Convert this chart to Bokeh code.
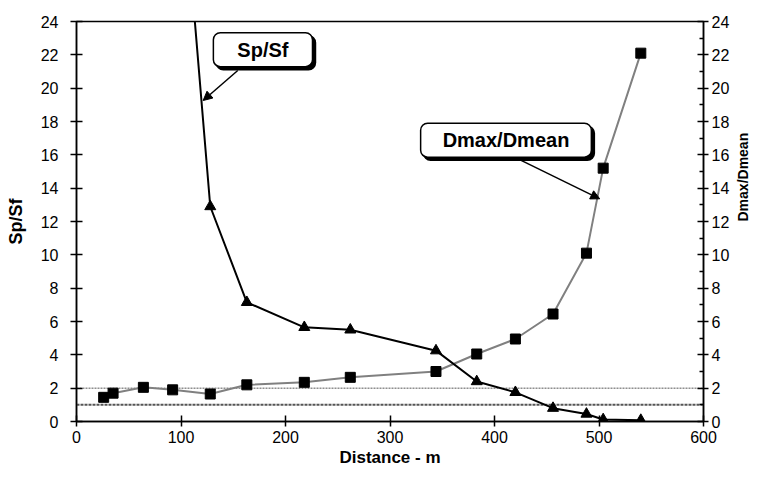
import math
from bokeh.plotting import figure
from bokeh.models import Range1d, LinearAxis, Label, Arrow, NormalHead, FixedTicker
from bokeh.embed import file_html
from bokeh.resources import INLINE

# ---- data ----
distance_sp = [92, 128, 163, 218, 262, 344, 383, 420, 456, 488, 504, 540]
sp_sf = [40.0, 12.9, 7.15, 5.65, 5.5, 4.25, 2.4, 1.75, 0.8, 0.45, 0.12, 0.08]

distance_d = [26, 35, 64, 92, 128, 163, 218, 262, 344, 383, 420, 456, 488, 504, 540]
dmax_dmean = [1.45, 1.7, 2.05, 1.9, 1.65, 2.2, 2.35, 2.65, 3.0, 4.05, 4.95, 6.45, 10.1, 15.2, 22.1]

x_ticks = [0, 100, 200, 300, 400, 500, 600]
y_ticks = [0, 2, 4, 6, 8, 10, 12, 14, 16, 18, 20, 22, 24]
y_minor = [1, 3, 5, 7, 9, 11, 13, 15, 17, 19, 21, 23]
ref_levels = [2, 1]

FONT = "Liberation Sans"

p = figure(width=762, height=470, output_backend="svg", toolbar_location=None,
           x_range=Range1d(0, 600), y_range=Range1d(0, 24),
           min_border_left=76, min_border_right=56, min_border_top=21, min_border_bottom=49)
p.extra_y_ranges = {"right": Range1d(0, 24)}
p.xgrid.visible = False
p.ygrid.visible = False
p.outline_line_color = "black"
p.outline_line_width = 1.5
p.background_fill_color = "white"
p.border_fill_color = "white"

def style_axis(ax):
    ax.axis_line_color = "black"
    ax.axis_line_width = 1.5
    ax.major_tick_line_color = "black"
    ax.major_tick_line_width = 1.5
    ax.major_tick_in = 6
    ax.major_tick_out = 6
    ax.minor_tick_line_color = "black"
    ax.minor_tick_in = 0
    ax.minor_tick_out = 0
    ax.major_label_text_font = FONT
    ax.major_label_text_font_size = "16px"
    ax.major_label_text_color = "black"
    ax.axis_label_text_font = FONT
    ax.axis_label_text_font_size = "18px"
    ax.axis_label_text_font_style = "bold"
    ax.axis_label_text_color = "black"

xa = p.xaxis[0]
xa.ticker = FixedTicker(ticks=x_ticks)
xa.axis_label = "Distance - m"
style_axis(xa)
xa.major_tick_out = 5
xa.axis_label_text_font_size = "17px"
xa.major_label_standoff = 4
xa.axis_label_standoff = 2

ya = p.yaxis[0]
ya.ticker = FixedTicker(ticks=y_ticks)
ya.axis_label = "Sp/Sf"
style_axis(ya)
ya.major_label_standoff = 12
ya.axis_label_standoff = 12

ra = LinearAxis(y_range_name="right", axis_label="Dmax/Dmean")
ra.ticker = FixedTicker(ticks=y_ticks, minor_ticks=y_minor)
style_axis(ra)
ra.axis_label_text_font_size = "14px"
ra.minor_tick_in = 4
ra.minor_tick_line_width = 1.5
ra.major_tick_out = 5
ra.major_label_standoff = 3
ra.axis_label_standoff = 11
try:
    ra.axis_label_orientation = math.pi / 2
except Exception:
    pass
p.add_layout(ra, "right")

# reference levels
p.line([0, 600], [ref_levels[0]] * 2, line_color="#555555", line_width=1, line_dash="2 1")
p.line([0, 600], [ref_levels[1]] * 2, line_color="#555555", line_width=2, line_dash="3 1")

# series
p.line(distance_d, dmax_dmean, line_color="#808080", line_width=2, y_range_name="right")
p.scatter(distance_d, dmax_dmean, marker="square", size=10, fill_color="black",
          line_color="black", y_range_name="right")

p.line(distance_sp, sp_sf, line_color="black", line_width=2)
p.scatter(distance_sp, sp_sf, marker="triangle", size=11, fill_color="black", line_color="black")

# callouts: padding is (left, right, top, bottom)
def callout(text, x, y, pad):
    sh = Label(x=x, y=y, text=text, x_offset=3, y_offset=-3, anchor="center",
               text_font=FONT, text_font_size="20px", text_font_style="bold",
               text_color="black", background_fill_color="black",
               border_line_color="black", border_line_width=1.5,
               padding=pad, border_radius=7)
    lb = Label(x=x, y=y, text=text, anchor="center",
               text_font=FONT, text_font_size="20px", text_font_style="bold",
               text_color="black", background_fill_color="white",
               border_line_color="black", border_line_width=1.5,
               padding=pad, border_radius=7)
    p.add_layout(sh)
    p.add_layout(lb)

p.add_layout(Arrow(x_start=154.3, y_start=21.06, x_end=121.2, y_end=19.26,
                   line_color="black", line_width=1.5,
                   end=NormalHead(size=9, fill_color="black", line_color="black")))
p.add_layout(Arrow(x_start=424.5, y_start=15.7, x_end=500.7, y_end=13.36,
                   line_color="black", line_width=1.5,
                   end=NormalHead(size=9, fill_color="black", line_color="black")))
callout("Sp/Sf", 178.4, 22.31, (24, 24, 6, 6))
callout("Dmax/Dmean", 411.0, 16.88, (22, 22, 6, 6))

open("out.html", "w").write(file_html(p, INLINE))
